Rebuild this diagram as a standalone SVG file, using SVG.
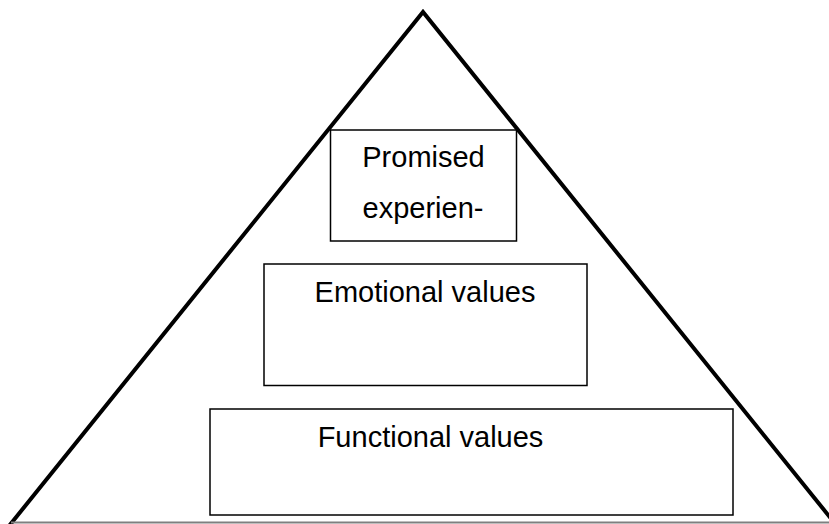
<svg xmlns="http://www.w3.org/2000/svg" width="829" height="524" viewBox="0 0 829 524">
  <style>
    .tri { fill: none; stroke: #000; stroke-width: 4; stroke-linejoin: miter; }
    .base { fill: none; stroke: #7f7f7f; stroke-width: 2; }
    .box { fill: #fff; stroke: #000; stroke-width: 1.5; }
    .lbl { font-family: "Liberation Sans", Arial, sans-serif; font-size: 29px; fill: #000; text-anchor: middle; }
  </style>
  <rect width="829" height="524" fill="#fff"/>
  <!-- pyramid outline -->
  <g id="pyramid">
    <polyline class="tri" points="9,526 423,12 837,526"/>
    <line class="base" x1="11" y1="522.5" x2="829" y2="522.5"/>
  </g>
  <!-- tiers, top to bottom -->
  <g id="promised">
    <rect class="box" x="330.5" y="130" width="186" height="111"/>
    <text class="lbl" x="423.5" y="167">Promised</text>
    <text class="lbl" x="423" y="218">experien-</text>
  </g>
  <g id="emotional">
    <rect class="box" x="264" y="264" width="323" height="121.5"/>
    <text class="lbl" x="425" y="302">Emotional values</text>
  </g>
  <g id="functional">
    <rect class="box" x="210" y="409" width="523" height="106"/>
    <text class="lbl" x="430.5" y="447">Functional values</text>
  </g>
</svg>
